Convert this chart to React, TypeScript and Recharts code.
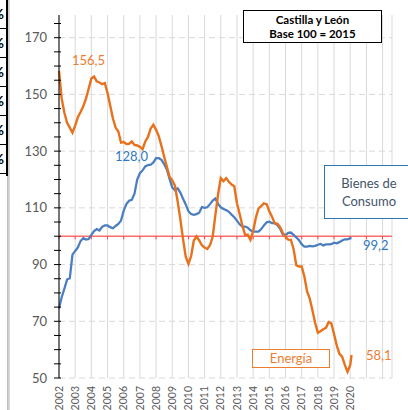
import {
  CartesianGrid,
  Line,
  LineChart,
  ReferenceLine,
  XAxis,
  YAxis,
} from 'recharts';

// meses desde enero de 2002 (cada dos meses, último punto feb-2020)
const meses = [
  0, 2, 4, 6, 8, 10, 12, 14, 16, 18, 20, 22, 24, 26, 28, 30, 32, 34, 36, 38, 40, 42, 44, 46,
  48, 50, 52, 54, 56, 58, 60, 62, 64, 66, 68, 70, 72, 74, 76, 78, 80, 82, 84, 86, 88, 90, 92,
  94, 96, 98, 100, 102, 104, 106, 108, 110, 112, 114, 116, 118, 120, 122, 124, 126, 128, 130,
  132, 134, 136, 138, 140, 142, 144, 146, 148, 150, 152, 154, 156, 158, 160, 162, 164, 166,
  168, 170, 172, 174, 176, 178, 180, 182, 184, 186, 188, 190, 192, 194, 196, 198, 200, 202,
  204, 206, 208, 210, 212, 214, 216, 217,
];

const energia = [
  158.3, 148.5, 143.5, 140, 138.3, 136.5, 139, 142, 143.8, 145.8, 148.5, 152, 155.6, 156.3,
  154.6, 154.2, 153.6, 154, 150.5, 146, 141.5, 138.3, 136.9, 133, 133.2, 132.5, 132.6, 133.4,
  132.2, 132, 131.5, 130.7, 133.4, 135, 138, 139.3, 137.5, 135.3, 131.8, 128, 124.5, 121,
  119.7, 117.8, 112.3, 106, 99, 92.8, 90.2, 93, 98.5, 99.9, 98.5, 96.8, 96, 95.5, 96.8, 99.8,
  107.5, 114.8, 120.5, 119.4, 120.5, 119.2, 118.2, 117.6, 111.6, 107.8, 103.8, 100.5, 100.5,
  98.7, 101.8, 106.5, 109.8, 110.6, 111.6, 111.3, 108.8, 106.9, 104.5, 104.4, 103.2, 101.2,
  99.8, 98.8, 98.7, 95.5, 89.8, 89.3, 89.3, 85.8, 80.5, 78, 73.8, 69.4, 66, 66.5, 67.2, 67.7,
  69.7, 69.3, 65.5, 61.5, 58.5, 57.5, 54.6, 52.2, 54.5, 58.1,
];

const bienes = [
  74.5, 78.5, 81.5, 84.7, 85.2, 93.5, 94.8, 96, 98.3, 99.3, 98.8, 99, 100.5, 101.8, 102.5,
  102, 103.3, 103.8, 103.8, 103.2, 102.8, 103.6, 104.3, 105.5, 109, 111.3, 112.5, 112.8, 115,
  120, 122.2, 123.2, 124.6, 125.1, 125.2, 126, 127.5, 127.5, 126.9, 125.4, 123.5, 120.2,
  117.2, 116.2, 116.9, 115.4, 113.2, 111.2, 108.8, 107.8, 107.5, 107.8, 108.3, 110.3, 110,
  110.2, 111.3, 112.6, 113.3, 111.4, 110.2, 109.6, 109.2, 108.6, 107.6, 106.7, 105.5, 104.2,
  103.4, 103.4, 103, 102.1, 101.6, 101.6, 101.6, 102.5, 103.8, 104.9, 105.1, 104.6, 104.6,
  103.9, 102.6, 100.6, 100.4, 101.2, 101.3, 100.5, 99.6, 98.6, 97.2, 96.3, 96.3, 96.6, 96.4,
  96.6, 97, 97.3, 96.7, 97.1, 97.1, 97.2, 97.7, 97.5, 97.9, 98.5, 98.9, 98.9, 99.3, 99.2,
];

const anios = [
  2002, 2003, 2004, 2005, 2006, 2007, 2008, 2009, 2010, 2011, 2012, 2013, 2014, 2015, 2016,
  2017, 2018, 2019, 2020, 2021, 2022,
];
const ultimoAnioRotulado = 2020;
const ticksY = [50, 55, 60, 65, 70, 75, 80, 85, 90, 95, 100, 105, 110, 115, 120, 125, 130, 135, 140, 145, 150, 155, 160, 165, 170, 175];
const rotulosY = [50, 70, 90, 110, 130, 150, 170];
const base = 100;

const data = meses.map((m, i) => ({ mes: m, energia: energia[i], bienes: bienes[i] }));
const ticksX = anios.map(a => (a - 2002) * 12);

const FONT = 'Lato, "Open Sans", sans-serif';
const NARANJA = '#E8711C';
const AZUL = '#4A7EC0';
const AZUL_TXT = '#2E78C2';
const GRIS = '#595959';

function YTick(props: any) {
  const { x, y, payload } = props;
  return (
    <g>
      <line x1={x - 5} x2={x + 2} y1={y} y2={y} stroke={'#000'} strokeWidth={1} />
      {rotulosY.includes(payload.value) && (
        <text x={x - 12} y={y} dy={4.5} textAnchor={'end'} fontSize={13} fill={GRIS} fontFamily={FONT}>
          {payload.value}
        </text>
      )}
    </g>
  );
}

function XTick(props: any) {
  const { x, y, payload } = props;
  const anio = 2002 + payload.value / 12;
  if (anio > ultimoAnioRotulado) return null;
  return (
    <text
      x={x}
      y={y}
      dy={'0.35em'}
      transform={`rotate(-90 ${x} ${y})`}
      textAnchor={'end'}
      fontSize={10.5}
      fill={GRIS}
      fontFamily={FONT}
    >
      {anio}
    </text>
  );
}

const abs = (left: number, top: number, extra: any = {}) => ({
  position: 'absolute' as const,
  left,
  top,
  fontFamily: FONT,
  whiteSpace: 'nowrap' as const,
  ...extra,
});

export default function App() {
  return (
    <div
      style={{
        position: 'fixed',
        left: 0,
        top: 0,
        width: 408,
        height: 410,
        background: '#fff',
        overflow: 'hidden',
      }}
    >
      {/* restos de otra tabla recortada a la izquierda */}
      <div style={{ position: 'absolute', left: 7, top: 0, width: 3, height: 410, background: 'linear-gradient(90deg,#b8b8b8,#e4e4e4)' }} />
      <div style={{ position: 'absolute', left: 0, top: 0, width: 6, height: 176, borderRight: '2px solid #000', overflow: 'hidden' }}>
        {[0, 1, 2, 3, 4, 5].map(i => (
          <div key={i} style={{ position: 'relative', height: 28, borderBottom: '1.5px solid #000', overflow: 'hidden' }}>
            <span style={{ position: 'absolute', right: 2, top: 6, fontSize: 14, lineHeight: '16px', fontWeight: 700, fontFamily: FONT }}>%</span>
          </div>
        ))}
      </div>

      <div style={{ position: 'absolute', left: 0, top: 0 }}>
        <LineChart width={408} height={410} data={data} margin={{ top: 15, right: 16, bottom: 0, left: 0 }}>
          <CartesianGrid vertical={false} stroke={'#d9d9d9'} strokeDasharray={'6 4'} horizontalValues={rotulosY} />
          <CartesianGrid horizontal={false} stroke={'#d9d9d9'} />
          <XAxis
            dataKey={'mes'}
            type={'number'}
            domain={[0, 247]}
            ticks={ticksX}
            interval={0}
            axisLine={false}
            tickLine={false}
            tickSize={0}
            tickMargin={8}
            height={32}
            tick={<XTick />}
          />
          <YAxis
            type={'number'}
            domain={[50, 178]}
            ticks={ticksY}
            interval={0}
            width={59}
            axisLine={{ stroke: '#000', strokeWidth: 1 }}
            tickLine={false}
            tickSize={0}
            tickMargin={0}
            tick={<YTick />}
          />
          <ReferenceLine y={base} stroke={'#FF6B6B'} strokeWidth={1.6} />
          {ticksX.map(m => (
            <ReferenceLine
              key={m}
              segment={[
                { x: m, y: base },
                { x: m, y: base - 1.1 },
              ]}
              stroke={'#FF4040'}
              strokeWidth={1}
            />
          ))}
          <Line dataKey={'bienes'} type={'linear'} stroke={AZUL} strokeWidth={2.25} dot={false} isAnimationActive={false} />
          <Line dataKey={'energia'} type={'linear'} stroke={NARANJA} strokeWidth={2.4} dot={false} isAnimationActive={false} />
        </LineChart>
      </div>

      {/* rótulos */}
      <div
        style={abs(243, 10, {
          width: 137,
          height: 31,
          border: '1.5px solid #000',
          background: '#fff',
          display: 'flex',
          flexDirection: 'column',
          alignItems: 'center',
          justifyContent: 'center',
          fontWeight: 700,
          fontSize: 11.5,
          lineHeight: '14px',
          color: '#000',
        })}
      >
        <div>Castilla y León</div>
        <div>Base 100 = 2015</div>
      </div>

      <div
        style={abs(324, 165, {
          width: 88,
          height: 52,
          border: '1.5px solid #2E75B6',
          background: '#fff',
          display: 'flex',
          flexDirection: 'column',
          alignItems: 'center',
          justifyContent: 'center',
          fontSize: 13,
          lineHeight: '18px',
          color: '#44546A',
        })}
      >
        <div>Bienes de</div>
        <div>Consumo</div>
      </div>

      <div
        style={abs(252, 349, {
          width: 76,
          height: 17,
          border: '1px solid #ED7D31',
          background: '#fff',
          display: 'flex',
          alignItems: 'center',
          justifyContent: 'center',
          fontSize: 13,
          lineHeight: '13px',
          color: '#ED7D31',
        })}
      >
        Energía
      </div>

      <div style={abs(72, 54, { fontSize: 13, lineHeight: '13px', color: '#ED7D31' })}>156,5</div>
      <div style={abs(115, 150, { fontSize: 13, lineHeight: '13px', color: AZUL_TXT })}>128,0</div>
      <div style={abs(363, 239, { fontSize: 13, lineHeight: '13px', color: AZUL_TXT })}>99,2</div>
      <div style={abs(366, 349, { fontSize: 13, lineHeight: '13px', color: '#ED7D31' })}>58,1</div>
    </div>
  );
}
